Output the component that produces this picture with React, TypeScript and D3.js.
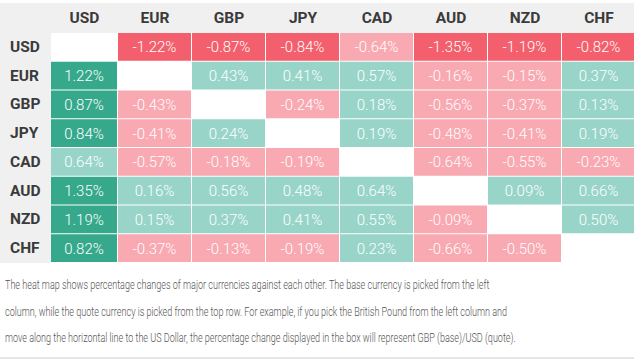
import React, { useLayoutEffect, useRef, useState } from "react";
import * as d3 from "d3";

const currencies = ["USD", "EUR", "GBP", "JPY", "CAD", "AUD", "NZD", "CHF"];

const rowUSD = [null, -1.22, -0.87, -0.84, -0.64, -1.35, -1.19, -0.82];
const rowEUR = [1.22, null, 0.43, 0.41, 0.57, -0.16, -0.15, 0.37];
const rowGBP = [0.87, -0.43, null, -0.24, 0.18, -0.56, -0.37, 0.13];
const rowJPY = [0.84, -0.41, 0.24, null, 0.19, -0.48, -0.41, 0.19];
const rowCAD = [0.64, -0.57, -0.18, -0.19, null, -0.64, -0.55, -0.23];
const rowAUD = [1.35, 0.16, 0.56, 0.48, 0.64, null, 0.09, 0.66];
const rowNZD = [1.19, 0.15, 0.37, 0.41, 0.55, -0.09, null, 0.5];
const rowCHF = [0.82, -0.37, -0.13, -0.19, 0.23, -0.66, -0.5, null];

const matrix: (number | null)[][] = [rowUSD, rowEUR, rowGBP, rowJPY, rowCAD, rowAUD, rowNZD, rowCHF];

const descriptionLines = [
  "The heat map shows percentage changes of major currencies against each other. The base currency is picked from the left",
  "column, while the quote currency is picked from the top row. For example, if you pick the British Pound from the left column and",
  "move along the horizontal line to the US Dollar, the percentage change displayed in the box will represent GBP (base)/USD (quote).",
];

const W = 634;
const H = 359;
const labelW = 51;
const colWidths = [67, 74, 74, 74, 74, 74, 74, 74];
const colEdges = [labelW, ...Array.from(d3.cumsum(colWidths), (c) => labelW + c)];
const top = 3;
const headerBottom = 33;
const gridBottom = 263;

const y = d3.scaleBand<string>().domain(currencies).range([headerBottom, gridBottom]);
const xStart = d3.scaleOrdinal<string, number>().domain(currencies).range(colEdges.slice(0, 8));
const xWidth = d3.scaleOrdinal<string, number>().domain(currencies).range(colWidths);

const color = d3
  .scaleThreshold<number, string>()
  .domain([-0.7, 0, 0.7])
  .range(["#f35f6c", "#f8a9b2", "#98d5c8", "#36a98c"]);

const fmt = (v: number) => `${v.toFixed(2)}%`;

const lineX = 5;
const lineEnds = [490, 508, 516];
const lineYs = [285, 311.5, 338];

export default function App() {
  const refs = useRef<(SVGTextElement | null)[]>([]);
  const [scales, setScales] = useState<number[]>([0.7, 0.7, 0.7]);

  useLayoutEffect(() => {
    const s = descriptionLines.map((_, i) => {
      const el = refs.current[i];
      if (!el) return 0.7;
      const len = el.getComputedTextLength();
      return len > 0 ? (lineEnds[i] - lineX) / len : 0.7;
    });
    setScales(s);
  }, []);

  return (
    <svg
      width={W}
      height={H}
      style={{ position: "absolute", left: 0, top: 0, background: "#fff" }}
      fontFamily="Roboto, 'Noto Sans', sans-serif"
    >
      <rect x={0} y={0} width={W} height={H} fill="#ffffff" />
      <rect x={0} y={top} width={W} height={headerBottom - top} fill="#f0f0f0" />
      <rect x={0} y={top} width={labelW} height={gridBottom - top} fill="#f0f0f0" />
      {currencies.map((c) => (
        <text
          key={"h" + c}
          x={xStart(c) + xWidth(c) / 2}
          y={18}
          textAnchor="middle"
          dominantBaseline="central"
          fontSize={15.5}
          fontWeight={700}
          fill="#3a3a3a"
        >
          {c}
        </text>
      ))}
      {currencies.map((c) => (
        <text
          key={"r" + c}
          x={10}
          y={(y(c) ?? 0) + y.bandwidth() / 2 - 0.5}
          dominantBaseline="central"
          fontSize={15.5}
          fontWeight={700}
          fill="#3a3a3a"
        >
          {c}
        </text>
      ))}
      {matrix.map((row, i) =>
        row.map((v, j) => {
          const rc = currencies[i];
          const cc = currencies[j];
          const x0 = xStart(cc);
          const w = xWidth(cc);
          const y0 = y(rc) ?? 0;
          const h = y.bandwidth();
          return (
            <g key={rc + cc}>
              <rect
                x={x0}
                y={y0}
                width={w - 1}
                height={h - 1}
                fill={v === null ? "#ffffff" : color(v)}
              />
              {v !== null && (
                <text
                  x={x0 + w / 2 - 0.5}
                  y={y0 + h / 2}
                  textAnchor="middle"
                  dominantBaseline="central"
                  fontSize={15}
                  fontWeight={300}
                  fill="#ffffff"
                >
                  {fmt(v)}
                </text>
              )}
            </g>
          );
        })
      )}
      {descriptionLines.map((t, i) => (
        <text
          key={"d" + i}
          ref={(el) => {
            refs.current[i] = el;
          }}
          x={0}
          y={0}
          transform={`translate(${lineX},${lineYs[i]}) scale(${scales[i]},1)`}
          dominantBaseline="central"
          fontSize={13}
          fontWeight={300}
          fill="#555555"
        >
          {t}
        </text>
      ))}
      <rect x={0} y={357} width={W} height={2} fill="#e6e6e6" />
    </svg>
  );
}
